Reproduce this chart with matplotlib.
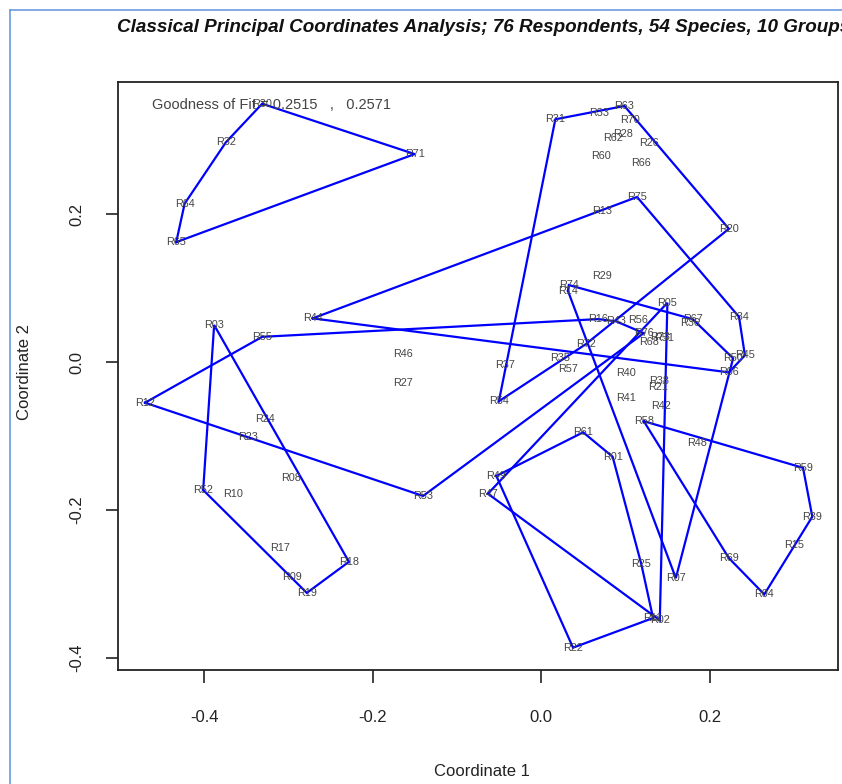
import numpy as np
import matplotlib.pyplot as plt
from matplotlib.lines import Line2D

# --------------------------- Data ---------------------------

labels = ['R01', 'R02', 'R03', 'R04', 'R05', 'R06', 'R07', 'R08', 'R09', 'R10',
          'R11', 'R12', 'R13', 'R14', 'R15', 'R16', 'R17', 'R18', 'R19', 'R20',
          'R21', 'R22', 'R23', 'R24', 'R25', 'R26', 'R27', 'R28', 'R29', 'R30',
          'R31', 'R32', 'R33', 'R34', 'R35', 'R36', 'R37', 'R38', 'R39', 'R40',
          'R41', 'R42', 'R43', 'R44', 'R45', 'R46', 'R47', 'R48', 'R49', 'R50',
          'R51', 'R52', 'R53', 'R54', 'R55', 'R56', 'R57', 'R58', 'R59', 'R60',
          'R61', 'R62', 'R63', 'R64', 'R65', 'R66', 'R67', 'R68', 'R69', 'R70',
          'R71', 'R72', 'R73', 'R74', 'R75', 'R76']

coord1 = [0.085, 0.141, -0.388, 0.265, 0.150, 0.223, 0.160, -0.297, -0.296, -0.366,
          0.133, -0.470, 0.072, 0.032, 0.301, 0.068, -0.310, -0.228, -0.278, 0.223,
          0.139, 0.038, -0.348, -0.328, 0.119, 0.128, -0.164, 0.097, 0.072, -0.331,
          0.017, -0.374, 0.069, 0.235, 0.023, 0.177, -0.043, 0.140, 0.322, 0.101,
          0.101, 0.142, 0.089, -0.271, 0.242, -0.164, -0.063, 0.185, -0.053, 0.228,
          0.146, -0.401, -0.140, -0.050, -0.331, 0.115, 0.032, 0.122, 0.311, 0.071,
          0.050, 0.085, 0.099, -0.423, -0.433, 0.119, 0.180, 0.128, 0.223, 0.106,
          -0.150, 0.053, 0.141, 0.033, 0.114, 0.122]

coord2 = [-0.128, -0.349, 0.050, -0.314, 0.080, -0.014, -0.292, -0.157, -0.291, -0.178,
          -0.346, -0.055, 0.204, 0.096, -0.247, 0.058, -0.251, -0.270, -0.312, 0.180,
          -0.034, -0.386, -0.101, -0.077, -0.273, 0.296, -0.028, 0.308, 0.116, 0.349,
          0.328, 0.297, 0.336, 0.061, 0.005, 0.053, -0.004, -0.026, -0.209, -0.015,
          -0.049, -0.059, 0.055, 0.059, 0.009, 0.011, -0.178, -0.109, -0.154, 0.005,
          0.032, -0.173, -0.181, -0.053, 0.034, 0.057, -0.009, -0.080, -0.143, 0.278,
          -0.095, 0.303, 0.346, 0.214, 0.162, 0.269, 0.058, 0.027, -0.265, 0.327,
          0.281, 0.024, 0.034, 0.104, 0.223, 0.039]

groups = ['H', 'F', 'B', 'I', 'F', 'D', 'G', 'B', 'B', 'B',
          'H', 'C', 'D', 'G', 'I', 'C', 'B', 'B', 'B', 'E',
          'G', 'H', 'B', 'B', 'H', 'E', 'C', 'E', 'J', 'A',
          'E', 'A', 'E', 'D', 'C', 'G', 'C', 'G', 'I', 'G',
          'G', 'G', 'C', 'D', 'D', 'C', 'F', 'I', 'H', 'G',
          'F', 'B', 'C', 'E', 'C', 'G', 'C', 'I', 'I', 'E',
          'H', 'E', 'E', 'A', 'A', 'E', 'G', 'F', 'I', 'E',
          'A', 'E', 'F', 'G', 'D', 'C']

goodness = (0.2515, 0.2571)


# --------------------------- Helpers ---------------------------

def convex_hull(points):
    """Monotone chain convex hull"""
    pts = sorted(set(points))
    if len(pts) < 3:
        return pts

    def cross(o, a, b):
        return (a[0] - o[0]) * (b[1] - o[1]) - (a[1] - o[1]) * (b[0] - o[0])

    lower = []
    for p in pts:
        while len(lower) >= 2 and cross(lower[-2], lower[-1], p) <= 0:
            lower.pop()
        lower.append(p)
    upper = []
    for p in reversed(pts):
        while len(upper) >= 2 and cross(upper[-2], upper[-1], p) <= 0:
            upper.pop()
        upper.append(p)
    return lower[:-1] + upper[:-1]


# --------------------------- Plot ---------------------------

plt.rcParams['font.family'] = ['Liberation Sans', 'DejaVu Sans']

W, H = 842, 784
fig = plt.figure(figsize=(W / 100, H / 100), dpi=100)
ax = fig.add_axes([118 / W, 1 - 670 / H, (838 - 118) / W, (670 - 82) / H])

x = np.array(coord1)
y = np.array(coord2)
g = np.array(groups)

for grp in sorted(set(groups)):
    mask = g == grp
    hull = convex_hull(list(zip(x[mask], y[mask])))
    if len(hull) < 3:
        continue
    hx = [p[0] for p in hull] + [hull[0][0]]
    hy = [p[1] for p in hull] + [hull[0][1]]
    ax.plot(hx, hy, color='#0000ff', lw=1.6, solid_joinstyle='miter')

for lab, xi, yi in zip(labels, x, y):
    ax.text(xi, yi, lab, fontsize=7.8, color='#444444', ha='center', va='center')

ax.set_xlim(-0.5021, 0.3525)
ax.set_ylim(-0.4162, 0.3784)
ax.set_xticks([-0.4, -0.2, 0.0, 0.2])
ax.set_yticks([-0.4, -0.2, 0.0, 0.2])
ax.set_xticklabels(['-0.4', '-0.2', '0.0', '0.2'])
ax.set_yticklabels(['-0.4', '-0.2', '0.0', '0.2'], rotation=90, va='center')
ax.tick_params(direction='out', length=9, width=1.2, labelsize=12,
               colors='#222222')
ax.tick_params(axis='x', pad=20)
ax.tick_params(axis='y', pad=15)
for sp in ax.spines.values():
    sp.set_linewidth(1.3)
    sp.set_color('#222222')

fig.text(482 / W, 1 - 772 / H, 'Coordinate 1', fontsize=12, color='#222222',
         ha='center', va='center')
fig.text(25 / W, 1 - 372 / H, 'Coordinate 2', fontsize=12, color='#222222',
         ha='center', va='center', rotation=90)

fig.text(117 / W, 1 - 28 / H,
         'Classical Principal Coordinates Analysis; 76 Respondents, 54 Species, 10 Groups',
         fontsize=13.6, fontweight='bold', fontstyle='italic', color='#111111',
         ha='left', va='center')

fig.text(152 / W, 1 - 105 / H,
         f'Goodness of Fit = {goodness[0]}   ,   {goodness[1]}',
         fontsize=10.5, color='#444444', ha='left', va='center')

# window frame of the screenshot
fig.add_artist(Line2D([10 / W, 10 / W], [0, 1 - 10 / H], transform=fig.transFigure,
                      color='#6b9be0', lw=1.2))
fig.add_artist(Line2D([10 / W, 1], [1 - 10 / H, 1 - 10 / H], transform=fig.transFigure,
                      color='#6b9be0', lw=1.2))

fig.savefig('out.png', dpi=100)
